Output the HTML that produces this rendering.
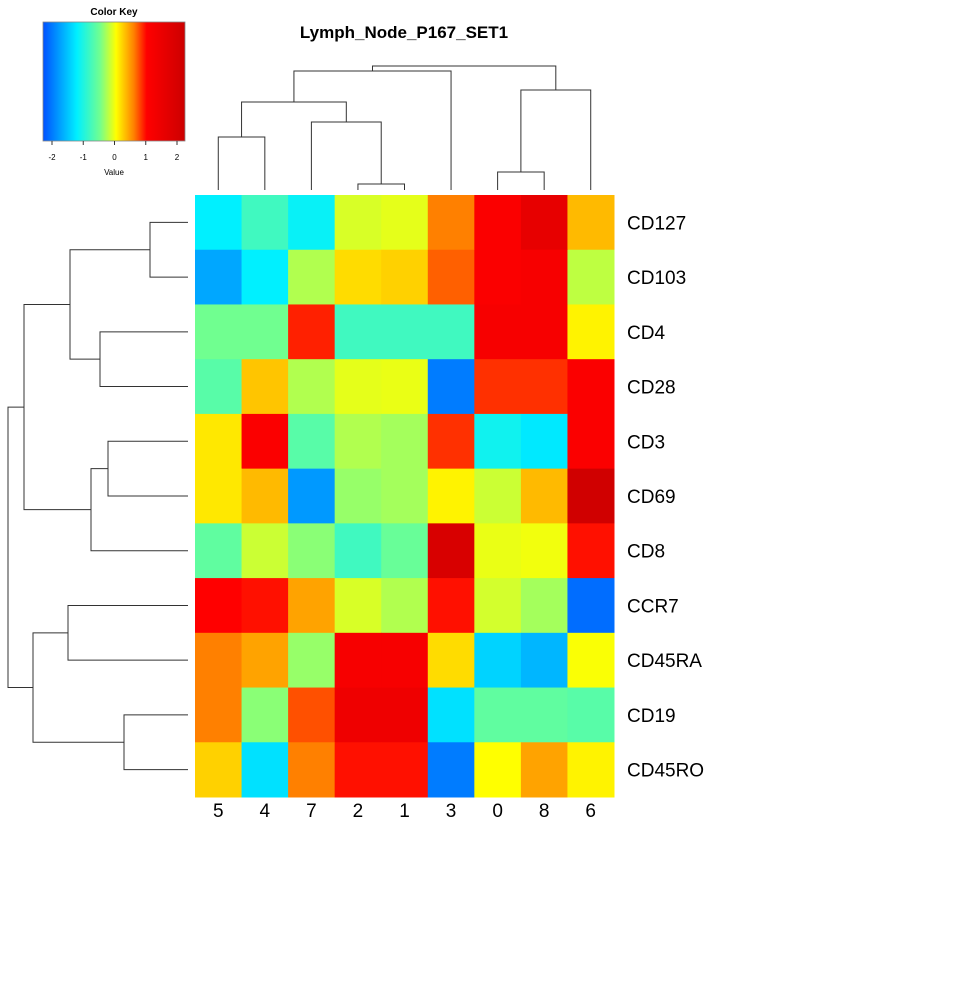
<!DOCTYPE html>
<html><head><meta charset="utf-8"><style>
body{margin:0;background:#fff;font-family:"Liberation Sans",sans-serif}
</style></head><body>
<svg width="980" height="980" xmlns="http://www.w3.org/2000/svg" font-family="Liberation Sans, sans-serif">
<defs><linearGradient id="kg" x1="0" x2="1" y1="0" y2="0">
<stop offset="0" stop-color="#0050ff"/><stop offset="0.24" stop-color="#00f0ff"/><stop offset="0.4" stop-color="#70ff90"/><stop offset="0.515" stop-color="#ffff00"/><stop offset="0.64" stop-color="#ff8000"/><stop offset="0.73" stop-color="#ff0000"/><stop offset="1" stop-color="#cc0000"/></linearGradient></defs>
<g>
<text x="114" y="15" font-size="10" font-weight="bold" text-anchor="middle">Color Key</text>
<rect x="43" y="22" width="142" height="119" fill="url(#kg)" stroke="#888" stroke-width="0.8"/>
<g id="keyticks"></g>
<text x="114" y="175" font-size="8" text-anchor="middle">Value</text>
</g>
<text x="404" y="38" font-size="17" font-weight="bold" text-anchor="middle">Lymph_Node_P167_SET1</text>
<g id="cells"></g><g id="dendro" stroke="#333" stroke-width="1" fill="none"></g><g id="labels"></g>
</svg>
<script>
const columns=["5","4","7","2","1","3","0","8","6"];
const rows=["CD127","CD103","CD4","CD28","CD3","CD69","CD8","CCR7","CD45RA","CD19","CD45RO"];
const values=[
[-1.2,-0.8,-1.15,-0.1,-0.05,0.6,1.1,1.6,0.35],
[-1.7,-1.2,-0.25,0.2,0.25,0.7,1.1,1.2,-0.2],
[-0.5,-0.5,0.9,-0.8,-0.8,-0.8,1.2,1.2,0.1],
[-0.65,0.3,-0.25,-0.05,-0.03,-2.0,0.85,0.85,1.1],
[0.15,1.1,-0.65,-0.25,-0.3,0.85,-1.1,-1.25,1.1],
[0.15,0.35,-1.8,-0.35,-0.3,0.1,-0.15,0.35,2.2],
[-0.6,-0.15,-0.4,-0.8,-0.55,2.0,-0.03,0.0,0.95],
[1.0,0.95,0.45,-0.1,-0.25,0.95,-0.12,-0.3,-2.1],
[0.6,0.45,-0.35,1.2,1.2,0.2,-1.4,-1.6,0.03],
[0.6,-0.4,0.75,1.4,1.4,-1.3,-0.6,-0.6,-0.65],
[0.25,-1.3,0.6,0.95,0.95,-2.0,0.05,0.45,0.1]];
const keyTicks=[-2,-1,0,1,2];
// dendrogram merges: [left, right, height]; leaves are indices, merges referenced as "m#"
const colMerges=[[3,4,184],[0,1,137],[2,"m0",122],["m1","m2",102],["m3",5,71],[6,7,172],["m5",8,90],["m4","m6",66]];
const rowMerges=[[0,1,150],[2,3,100],["m0","m1",70],[4,5,108],["m3",6,91],["m2","m4",24],[7,8,68],[9,10,124],["m6","m7",33],["m5","m8",8]];
const NS="http://www.w3.org/2000/svg";
const X0=195,Y0=195,CW=(614-195)/9,RH=(797-195)/11;
const stops=[[-2.3,[0,80,255]],[-1.2,[0,240,255]],[-0.5,[112,255,144]],[0.05,[255,255,0]],[0.6,[255,128,0]],[1.0,[255,0,0]],[2.3,[204,0,0]]];
function col(v){if(v<=stops[0][0])return stops[0][1];for(let i=1;i<stops.length;i++){if(v<=stops[i][0]){const[a,ca]=stops[i-1],[b,cb]=stops[i];const t=(v-a)/(b-a);return ca.map((c,k)=>Math.round(c+(cb[k]-c)*t));}}return stops[stops.length-1][1];}
function el(t,a,p){const e=document.createElementNS(NS,t);for(const k in a)e.setAttribute(k,a[k]);p.appendChild(e);return e;}
const kx=v=>114.5+v*31.25;
const kt=document.getElementById('keyticks');
keyTicks.forEach(v=>{const l=el('line',{x1:kx(v),x2:kx(v),y1:141,y2:145,stroke:'#333'},kt);


const t=el('text',{x:kx(v),y:160,'font-size':8,'text-anchor':'middle'},kt);t.textContent=v;

});
const cg=document.getElementById('cells'),lg=document.getElementById('labels');
values.forEach((r,i)=>r.forEach((v,j)=>{const c=col(v);const e=el('rect',{x:X0+j*CW,y:Y0+i*RH,width:CW+0.5,height:RH+0.5,fill:`rgb(${c})`},cg);

}));
rows.forEach((r,i)=>{const t=el('text',{x:627,y:Y0+(i+.5)*RH+7,'font-size':19},lg);t.textContent=r;

});
columns.forEach((c,j)=>{const t=el('text',{x:X0+(j+.5)*CW,y:817,'font-size':19,'text-anchor':'middle'},lg);t.textContent=c;

});
const dg=document.getElementById('dendro');
function dendro(merges,leafPos,leafH,vertical,name){const pos=[],h=[];
const get=n=>typeof n==="string"?[pos[+n.slice(1)],h[+n.slice(1)]]:[leafPos(n),leafH];
merges.forEach((m,i)=>{const[a,ha]=get(m[0]),[b,hb]=get(m[1]);const H=m[2];
const d=vertical?`M${a},${ha}V${H}H${b}V${hb}`:`M${ha},${a}H${H}V${b}H${hb}`;
const p=el('path',{d},dg);


pos.push((a+b)/2);h.push(H);});}
dendro(colMerges,j=>X0+(j+.5)*CW,190,true,'column-dendrogram');
dendro(rowMerges,i=>Y0+(i+.5)*RH,188,false,'row-dendrogram');
</script>
</body></html>
